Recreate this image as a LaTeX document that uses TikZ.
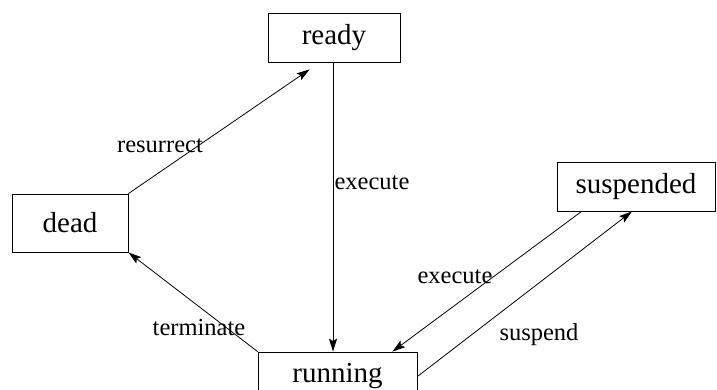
\documentclass[tikz,border=0pt]{standalone}
\usepackage{fontspec}
\setmainfont{Liberation Serif}
\usetikzlibrary{arrows.meta,calc}
\begin{document}
\begin{tikzpicture}[x=1pt,y=-1pt,
  state/.style={draw, line width=0.8pt, inner sep=0pt, font=\fontsize{29}{34}\selectfont},
  lbl/.style={inner sep=0pt, font=\fontsize{24.5}{29}\selectfont},
  edge/.style={draw, line width=0.8pt, -{Stealth[length=13pt,width=8pt,inset=2.5pt]}}]
  \useasboundingbox (0,0) rectangle (717,390);
  \clip (0,0) rectangle (717,390);

  % states
  \node[state, minimum width=132pt, minimum height=49pt] (ready) at (334,37.5) {ready};
  \node[state, minimum width=116pt, minimum height=58pt] (dead) at (70,223) {dead};
  \node[state, minimum width=158pt, minimum height=49pt] (suspended) at (636,186.5) {suspended};
  \node[state, minimum width=159pt, minimum height=49pt] (running) at (337.5,376.5) {running};

  % transitions
  \coordinate (resEnd) at ($(ready.south west)+(42,7)$);
  \draw[edge] (dead.north east) -- (resEnd);
  \draw[edge] (ready.south -| 333,0) -- (running.north -| 333,0);
  \draw[edge] ($(suspended.south west)+(25,0)$) -- ($(running.north east)+(-25,0)$);
  \draw[edge] (running.east) -- ($(suspended.south)+(-4,0)$);
  \draw[edge] (running.north west) -- (dead.south east);

  % labels
  \node[lbl] (lres) at (160,146) {resurrect};
  \node[lbl] (lexe1) at (372,183) {execute};
  \node[lbl] (lexe2) at (455,277) {execute};
  \node[lbl] (lsus) at (539,335) {suspend};
  \node[lbl] (lter) at (199,328) {terminate};
\end{tikzpicture}
\end{document}
